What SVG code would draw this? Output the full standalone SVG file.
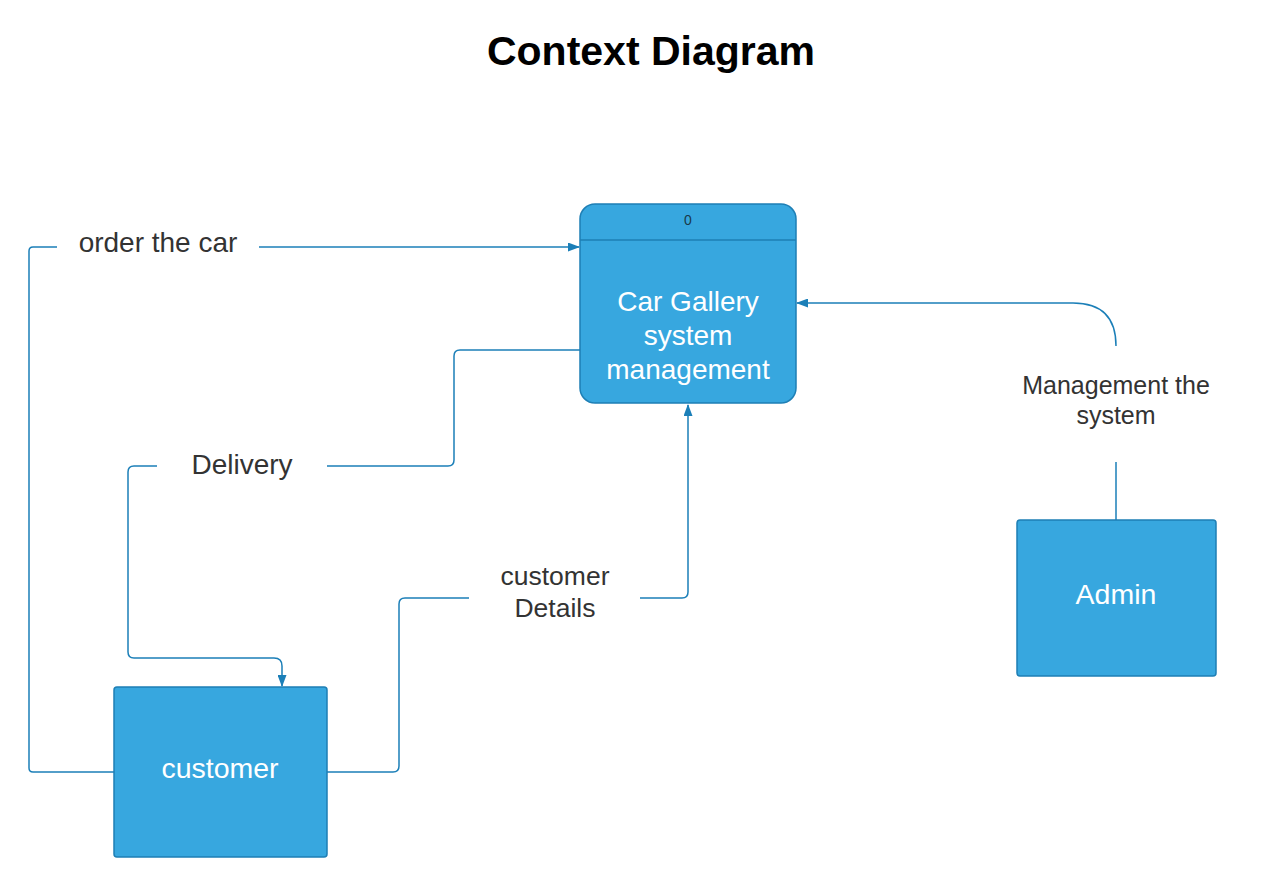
<svg xmlns="http://www.w3.org/2000/svg" width="1280" height="886" viewBox="0 0 1280 886">
<defs>
<style>
.box{fill:#37a7df;stroke:#1e7fb5;stroke-width:1.5}
.wt{fill:#ffffff;font-family:"Liberation Sans",Arial,sans-serif;text-anchor:middle}
.lbl{fill:#333333;font-family:"Liberation Sans",Arial,sans-serif;text-anchor:middle}
.ln{fill:none;stroke:#1b7fb8;stroke-width:1.5}
</style>
<marker id="arr" viewBox="0 0 12 10" refX="11" refY="5" markerWidth="12" markerHeight="9" markerUnits="userSpaceOnUse" orient="auto" preserveAspectRatio="none">
<path d="M0,0 L12,5 L0,10 z" fill="#1b7fb8"/>
</marker>
</defs>
<rect width="1280" height="886" fill="#ffffff"/>
<text x="651" y="65" font-family="Liberation Sans,Arial,sans-serif" font-weight="bold" font-size="41" text-anchor="middle" fill="#000">Context Diagram</text>

<g id="connectors">
<path class="ln" d="M114,772 H33 Q29,772 29,768 V251 Q29,247 33,247 H57"/>
<path class="ln" d="M259,247 H579" marker-end="url(#arr)"/>
<path class="ln" d="M580,350 H460 Q454,350 454,356 V460 Q454,466 448,466 H327"/>
<path class="ln" d="M157,466 H134 Q128,466 128,472 V652 Q128,658 134,658 H274 Q282,658 282,666 V686" marker-end="url(#arr)"/>
<path class="ln" d="M327,772 H393 Q399,772 399,766 V604 Q399,598 405,598 H469"/>
<path class="ln" d="M640,598 H682 Q688,598 688,592 V405" marker-end="url(#arr)"/>
<path class="ln" d="M1116,520 V462"/>
<path class="ln" d="M1116,346 Q1116,303 1073,303 H797" marker-end="url(#arr)"/>
</g>

<g id="labels">
<text class="lbl" x="158" y="252" font-size="28">order the car</text>
<text class="lbl" x="242" y="474" font-size="28">Delivery</text>
<text class="lbl" x="555" y="585" font-size="26.5">customer</text>
<text class="lbl" x="555" y="617" font-size="26.5">Details</text>
<text class="lbl" x="1116" y="394" font-size="25">Management the</text>
<text class="lbl" x="1116" y="424" font-size="25">system</text>
</g>

<g id="process0">
<rect class="box" x="580" y="204" width="216" height="199" rx="15"/>
<line x1="580" y1="240" x2="796" y2="240" stroke="#1e7fb5" stroke-width="1.5"/>
<text x="688" y="225" font-family="Liberation Sans,Arial,sans-serif" font-size="14" text-anchor="middle" fill="#1a3a4a">0</text>
<text class="wt" x="688" y="311" font-size="28">Car Gallery</text>
<text class="wt" x="688" y="345" font-size="28">system</text>
<text class="wt" x="688" y="379" font-size="28">management</text>
</g>

<g id="customer">
<rect class="box" x="114" y="687" width="213" height="170" rx="3"/>
<text class="wt" x="220" y="778" font-size="28.5">customer</text>
</g>

<g id="admin">
<rect class="box" x="1017" y="520" width="199" height="156" rx="3"/>
<text class="wt" x="1116" y="604" font-size="28.5">Admin</text>
</g>
</svg>
